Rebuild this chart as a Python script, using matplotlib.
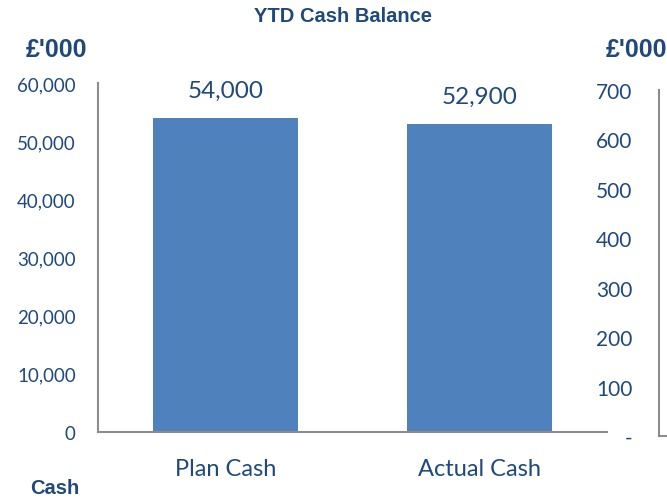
import matplotlib.pyplot as plt

categories = ["Plan Cash", "Actual Cash"]
cash = [54000, 52900]
left_ticks = [0, 10000, 20000, 30000, 40000, 50000, 60000]
right_ticks = [0, 100, 200, 300, 400, 500, 600, 700]
right_labels = ["-", "100", "200", "300", "400", "500", "600", "700"]

navy = "#1F497D"
bar_col = "#4F81BD"
grey = "#8C8C8C"
body = "Lato"

W, H = 667, 502
fig = plt.figure(figsize=(W / 100, H / 100), dpi=100)

# main chart area (pixel positions from the reference)
ax = fig.add_axes([98 / W, (H - 433) / H, (607 - 98) / W, (433 - 84) / H])
x = range(len(categories))
bars = ax.bar(x, cash, width=0.57, color=bar_col)
ax.set_xlim(-0.5, 1.5)
ax.set_ylim(0, 60000)
ax.set_yticks(left_ticks)
ax.set_yticklabels([f"{v:,}" for v in left_ticks], fontsize=13.5, color=navy, family=body)
ax.set_xticks(list(x))
ax.set_xticklabels(categories, fontsize=17, color=navy, family=body)
ax.tick_params(axis="both", length=0)
ax.tick_params(axis="y", pad=16)
ax.tick_params(axis="x", pad=19)
for s in ["top", "right"]:
    ax.spines[s].set_visible(False)
for s in ["left", "bottom"]:
    ax.spines[s].set_color(grey)
    ax.spines[s].set_linewidth(1.5)
for b, v in zip(bars, cash):
    ax.annotate(f"{v:,}", (b.get_x() + b.get_width() / 2, v), xytext=(0, 20),
                textcoords="offset points", ha="center", va="center",
                fontsize=17.5, color=navy, family=body)

# secondary chart area, mostly cut off at the right edge
ax2 = fig.add_axes([659 / W, (H - 437) / H, 30 / W, (437 - 91) / H])
ax2.set_ylim(0, 700)
ax2.set_yticks(right_ticks)
ax2.set_yticklabels(right_labels, fontsize=15, color=navy, family=body)
ax2.set_xticks([])
ax2.tick_params(axis="y", length=0, pad=19)
for s in ["top", "right"]:
    ax2.spines[s].set_visible(False)
for s in ["left", "bottom"]:
    ax2.spines[s].set_color(grey)
    ax2.spines[s].set_linewidth(1.5)

fig.text(343 / W, 1 - 17 / H, "YTD Cash Balance", ha="center", va="center",
         fontsize=14.5, fontweight="bold", color=navy, family="Liberation Sans")
fig.text(56 / W, 1 - 50 / H, "£'000", ha="center", va="center",
         fontsize=18, fontweight="bold", color=navy, family="Liberation Sans")
fig.text(636 / W, 1 - 50 / H, "£'000", ha="center", va="center",
         fontsize=18, fontweight="bold", color=navy, family="Liberation Sans")
fig.text(55 / W, 1 - 489 / H, "Cash", ha="center", va="center",
         fontsize=14.5, fontweight="bold", color=navy, family="Liberation Sans")

fig.savefig("out.png", dpi=100)
